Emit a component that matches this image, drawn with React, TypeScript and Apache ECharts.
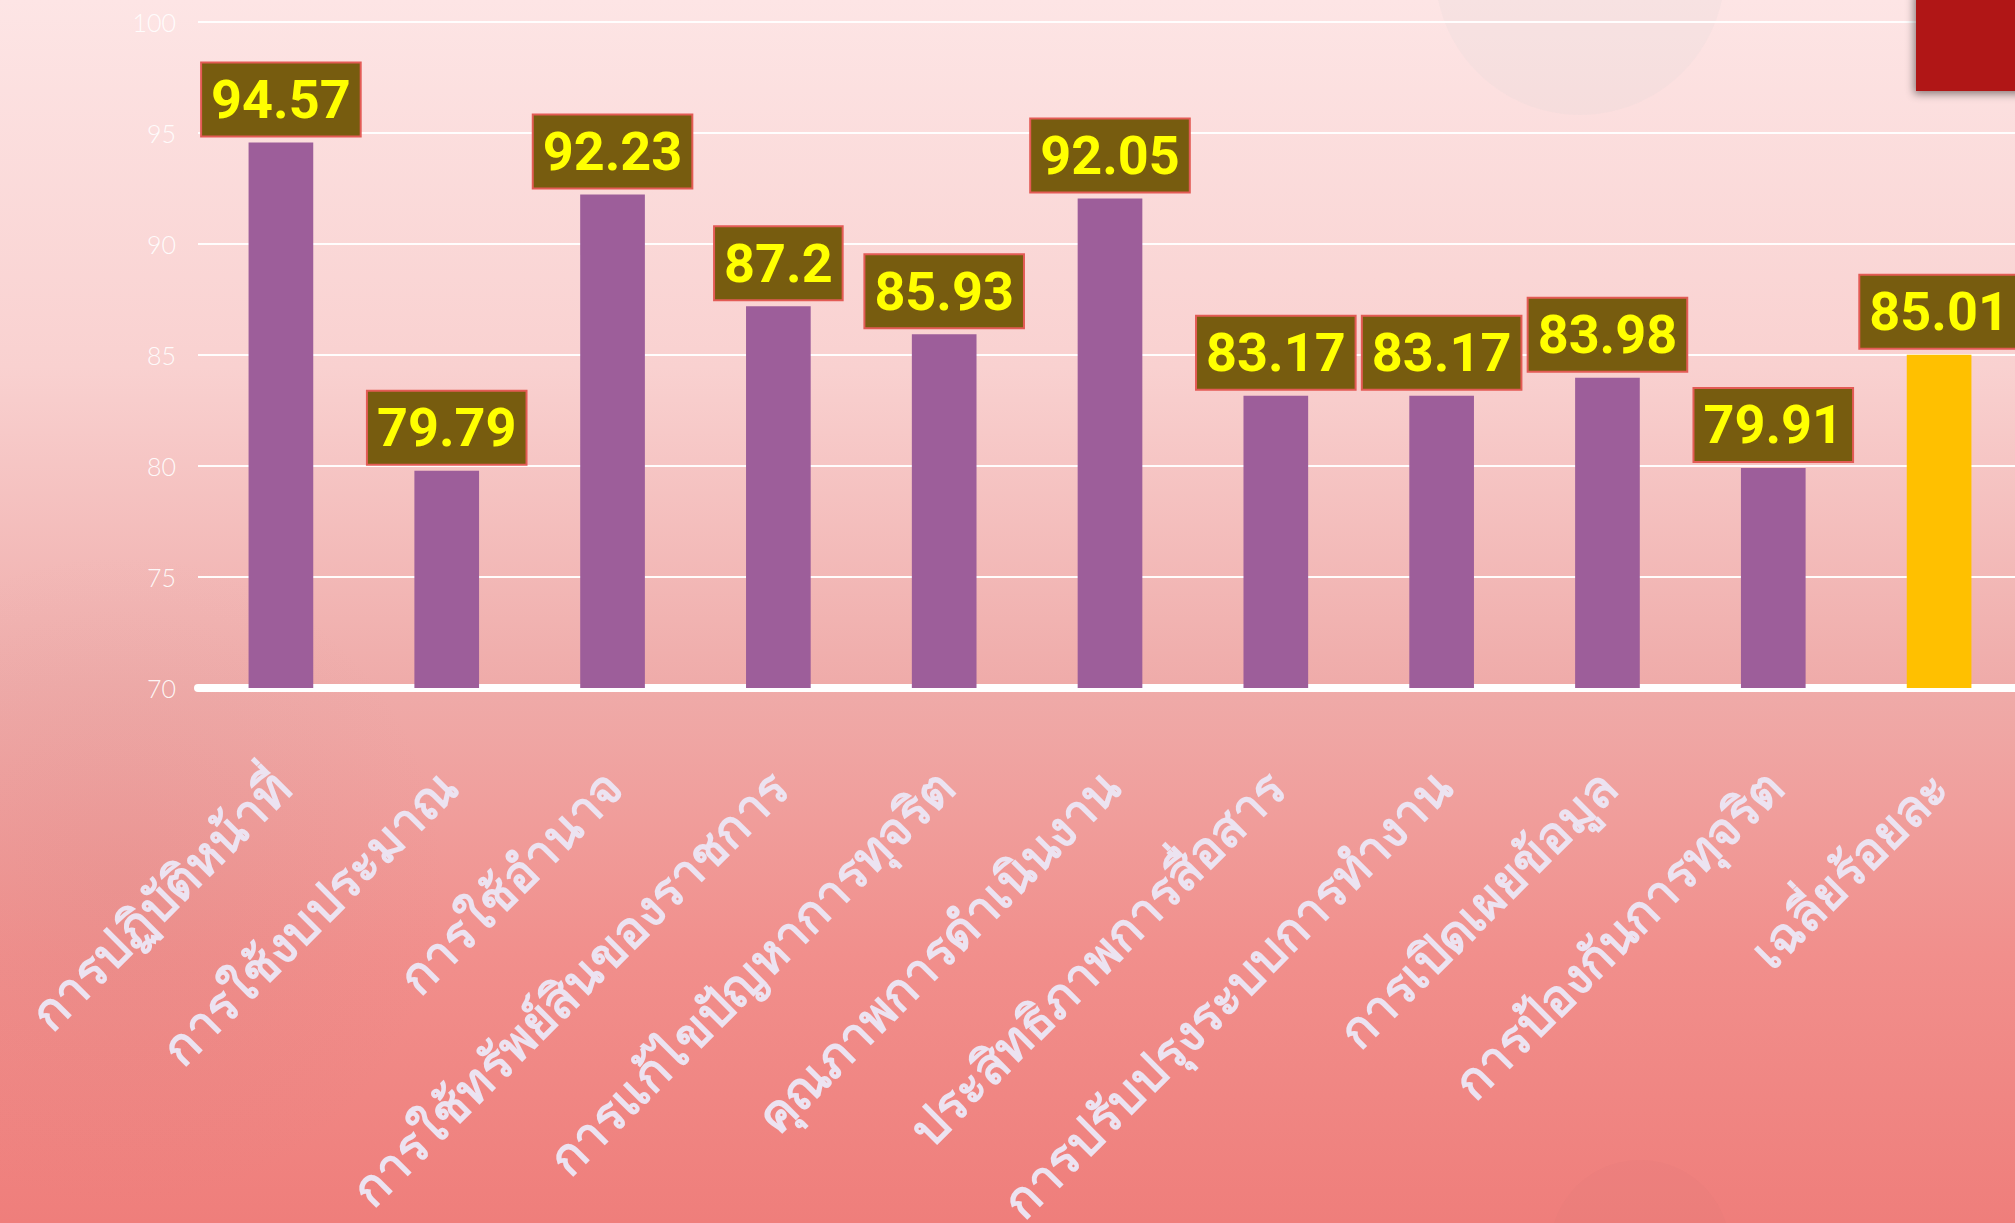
import React, { useEffect, useRef } from "react";
import * as echarts from "echarts";

const categories = [
  "การปฏิบัติหน้าที่",
  "การใช้งบประมาณ",
  "การใช้อำนาจ",
  "การใช้ทรัพย์สินของราชการ",
  "การแก้ไขปัญหาการทุจริต",
  "คุณภาพการดำเนินงาน",
  "ประสิทธิภาพการสื่อสาร",
  "การปรับปรุงระบบการทำงาน",
  "การเปิดเผยข้อมูล",
  "การป้องกันการทุจริต",
  "เฉลี่ยร้อยละ",
];
const values = [94.57, 79.79, 92.23, 87.2, 85.93, 92.05, 83.17, 83.17, 83.98, 79.91, 85.01];
const averageCategory = "เฉลี่ยร้อยละ";
const yTicks = { min: 70, max: 100, interval: 5 };

export default function App() {
  const ref = useRef<HTMLDivElement>(null);
  useEffect(() => {
    document.body.style.margin = "0";
    const chart = echarts.init(ref.current!, null, { renderer: "svg" });
    chart.setOption({
      animation: false,
      backgroundColor: {
        type: "linear",
        x: 0,
        y: 0,
        x2: 0,
        y2: 1,
        colorStops: [
          { offset: 0, color: "#fde5e5" },
          { offset: 0.3, color: "#f9d1d0" },
          { offset: 0.56, color: "#efaba9" },
          { offset: 0.78, color: "#f18f8c" },
          { offset: 1, color: "#ef7e7b" },
        ],
      },
      graphic: [
        {
          type: "circle",
          shape: { cx: 1580, cy: -30, r: 145 },
          style: { fill: "rgba(215,212,212,0.14)" },
          silent: true,
          z: -1,
        },
        {
          type: "circle",
          shape: { cx: 1640, cy: 1250, r: 90 },
          style: { fill: "rgba(200,110,110,0.07)" },
          silent: true,
          z: -1,
        },
        {
          type: "circle",
          shape: { cx: 120, cy: 880, r: 330 },
          style: {
            fill: {
              type: "radial",
              x: 0.5,
              y: 0.5,
              r: 0.5,
              colorStops: [
                { offset: 0, color: "rgba(180,120,120,0.10)" },
                { offset: 1, color: "rgba(180,120,120,0)" },
              ],
            },
          },
          silent: true,
          z: -1,
        },
        {
          type: "rect",
          shape: { x: 1916, y: -10, width: 120, height: 101 },
          style: {
            fill: "#b01515",
            shadowBlur: 8,
            shadowOffsetX: -2,
            shadowOffsetY: 3,
            shadowColor: "rgba(0,0,0,0.45)",
          },
          z: 10,
        },
      ],
      grid: {
        left: 198,
        right: -7,
        top: 22,
        bottom: 535,
        containLabel: false,
        outerBoundsMode: "none",
      },
      xAxis: {
        type: "category",
        data: categories,
        axisLine: { show: true, lineStyle: { color: "#ffffff", width: 8 } },
        axisTick: { show: false },
        axisLabel: {
          interval: 0,
          rotate: 45,
          margin: 90,
          color: "#ece3f1",
          fontSize: 50,
          fontWeight: "bold",
          fontFamily: "Noto Sans, sans-serif",
        },
      },
      yAxis: {
        type: "value",
        min: yTicks.min,
        max: yTicks.max,
        interval: yTicks.interval,
        axisLine: { show: false },
        axisTick: { show: false },
        axisLabel: {
          color: "rgba(255,255,255,0.92)",
          fontSize: 25,
          fontWeight: 300,
          margin: 22,
          fontFamily: "Lato, sans-serif",
        },
        splitLine: { lineStyle: { color: "rgba(255,255,255,0.95)", width: 2 } },
      },
      series: [
        {
          type: "bar",
          barWidth: "39%",
          data: values.map((v, i) => ({
            value: v,
            itemStyle: { color: categories[i] === averageCategory ? "#ffc000" : "#9d5e9a" },
          })),
          label: {
            show: true,
            position: "top",
            distance: 7,
            color: "#ffff00",
            fontSize: 54,
            fontWeight: "bold",
            fontFamily: "Roboto, sans-serif",
            backgroundColor: "#775c0f",
            borderColor: "#e35b55",
            borderWidth: 2,
            padding: [6, 9, 6, 9],
            lineHeight: 60,
          },
          z: 3,
        },
      ],
    });
    return () => chart.dispose();
  }, []);
  return <div ref={ref} style={{ width: 2015, height: 1223 }} />;
}
